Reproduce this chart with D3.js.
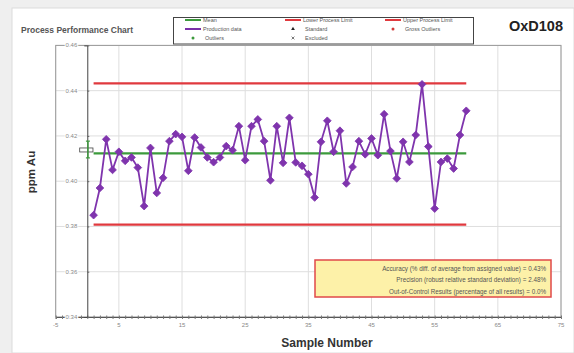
<!DOCTYPE html>
<html>
<head>
<meta charset="utf-8">
<script src="https://cdn.jsdelivr.net/npm/d3@7"></script>
<style>
  body { margin: 0; background: #fff; }
  svg { display: block; font-family: "Liberation Sans", Arial, sans-serif; }
</style>
</head>
<body>
<div id="chart"></div>
<script>
// sample numbers and measured gold values (ppm Au)
var sampleNumbers = [1,2,3,4,5,6,7,8,9,10,11,12,13,14,15,16,17,18,19,20,
  21,22,23,24,25,26,27,28,29,30,31,32,33,34,35,36,37,38,39,40,
  41,42,43,44,45,46,47,48,49,50,51,52,53,54,55,56,57,58,59,60];
var productionValues = [0.385,0.397,0.4185,0.405,0.413,0.409,0.4105,0.406,0.389,0.4147,
  0.3948,0.4015,0.4177,0.4208,0.4196,0.4046,0.4193,0.4149,0.4105,0.4084,
  0.4105,0.4155,0.4137,0.4243,0.4093,0.4243,0.4273,0.4177,0.4004,0.4243,
  0.4081,0.428,0.4083,0.4068,0.4031,0.3928,0.4174,0.4267,0.413,0.4223,
  0.399,0.4063,0.4177,0.4119,0.4189,0.4115,0.4296,0.4133,0.4012,0.4174,
  0.4085,0.4204,0.4428,0.4153,0.3879,0.4085,0.41,0.4056,0.4204,0.4311];

var meanValue = 0.4123;
var lowerLimit = 0.3808;
var upperLimit = 0.4432;
var limitSpan = [1, 60];

// certified standard: value and its tolerance
var standardValue = 0.4138;
var standardRange = [0.4103, 0.4177];

var xTicks = [-5, 5, 15, 25, 35, 45, 55, 65, 75];
var yTicks = [0.34, 0.36, 0.38, 0.40, 0.42, 0.44, 0.46];

var legendItems = [
  ["Mean", "line", "#3c9a3c"], ["Lower Process Limit", "line", "#e0393e"], ["Upper Process Limit", "line", "#e0393e"],
  ["Production data", "line", "#7a2fa8"], ["Standard", "tri", "#222"], ["Gross Outliers", "dot", "#d23a3a"],
  ["Outliers", "dot", "#3c9a3c"], ["Excluded", "cross", "#555"]
];

var statLines = [
  "Accuracy (% diff. of average from assigned value) = 0.43%",
  "Precision (robust relative standard deviation) = 2.48%",
  "Out-of-Control Results (percentage of all results) = 0.0%"
];

var width = 574, height = 353;
var purple = "#7f34ad", red = "#e0393e", green = "#3c9a3c";

var svg = d3.select("#chart").append("svg")
  .attr("width", width)
  .attr("height", height);

// page background with the white panel
svg.append("rect").attr("width", width).attr("height", height).attr("fill", "#efefef");
svg.append("rect").attr("x", 12).attr("y", 8).attr("width", width - 12).attr("height", height - 8)
  .attr("fill", "#fff").attr("stroke", "#dcdcdc");

var x = d3.scaleLinear().domain([-5, 75]).range([55.7, 561]);
var y = d3.scaleLinear().domain([0.34, 0.46]).range([317, 45.4]);

// grid
var grid = svg.append("g");
grid.selectAll("line.v").data(xTicks).enter().append("line")
  .attr("x1", d => x(d)).attr("x2", d => x(d))
  .attr("y1", y(0.34)).attr("y2", y(0.46))
  .attr("stroke", "#dedede");
grid.selectAll("line.h").data(yTicks).enter().append("line")
  .attr("x1", x(-5)).attr("x2", x(75))
  .attr("y1", d => y(d)).attr("y2", d => y(d))
  .attr("stroke", "#dedede");
grid.append("rect")
  .attr("x", x(-5)).attr("y", y(0.46))
  .attr("width", x(75) - x(-5)).attr("height", y(0.34) - y(0.46))
  .attr("fill", "none").attr("stroke", "#9a9a9a");

// x axis with minor ticks
var xAxisG = svg.append("g").attr("transform", "translate(0," + y(0.34) + ")");
xAxisG.call(d3.axisBottom(x).tickValues(d3.range(-5, 76, 1)).tickSize(2).tickFormat(""));
xAxisG.call(g => g.select(".domain").attr("stroke", "#555"));
xAxisG.selectAll(".tick line").attr("stroke", "#777").attr("y1", -1.5);
xAxisG.selectAll("text.lbl").data(xTicks).enter().append("text")
  .attr("class", "lbl")
  .attr("x", d => x(d)).attr("y", 10)
  .attr("text-anchor", "middle")
  .attr("font-size", "6px").attr("fill", "#888")
  .text(d => d);

// y axis at zero
var yAxisG = svg.append("g").attr("transform", "translate(" + x(0) + ",0)");
yAxisG.call(d3.axisLeft(y).tickValues(yTicks).tickSize(3).tickFormat(""));
yAxisG.select(".domain").attr("stroke", "#444");
yAxisG.selectAll(".tick line").attr("stroke", "#666").attr("x2", 2);
yAxisG.selectAll("text.lbl").data(yTicks).enter().append("text")
  .attr("class", "lbl")
  .attr("x", -10).attr("y", d => y(d) + 2)
  .attr("text-anchor", "end")
  .attr("font-size", "6px").attr("fill", "#888")
  .attr("stroke", "#fff").attr("stroke-width", 2).attr("paint-order", "stroke")
  .text(d => d3.format(".2f")(d));

// limits and mean
var refLines = [[upperLimit, red], [lowerLimit, red], [meanValue, green]];
svg.selectAll("line.ref").data(refLines).enter().append("line")
  .attr("x1", x(limitSpan[0])).attr("x2", x(limitSpan[1]))
  .attr("y1", d => y(d[0])).attr("y2", d => y(d[0]))
  .attr("stroke", d => d[1]).attr("stroke-width", 2.2);

// standard marker
var std = svg.append("g");
std.append("rect")
  .attr("x", x(-1.2)).attr("y", y(standardValue) - 2)
  .attr("width", x(0.9) - x(-1.2)).attr("height", 4)
  .attr("fill", "none").attr("stroke", "#444").attr("stroke-width", 0.8);
std.append("line")
  .attr("x1", x(0.1)).attr("x2", x(0.1))
  .attr("y1", y(standardRange[0])).attr("y2", y(standardRange[1]))
  .attr("stroke", green).attr("stroke-width", 1.5);
std.selectAll("line.cap").data(standardRange).enter().append("line")
  .attr("x1", x(0.1) - 2).attr("x2", x(0.1) + 2)
  .attr("y1", d => y(d)).attr("y2", d => y(d))
  .attr("stroke", green).attr("stroke-width", 1.2);

// production data
var points = sampleNumbers.map((s, i) => [s, productionValues[i]]);
svg.append("path")
  .datum(points)
  .attr("d", d3.line().x(d => x(d[0])).y(d => y(d[1])))
  .attr("fill", "none").attr("stroke", purple).attr("stroke-width", 1.8);
svg.selectAll("path.pt").data(points).enter().append("path")
  .attr("class", "pt")
  .attr("transform", d => "translate(" + x(d[0]) + "," + y(d[1]) + ")")
  .attr("d", d3.symbol(d3.symbolDiamond2, 38))
  .attr("fill", purple).attr("stroke", purple).attr("stroke-width", 0.8);

// titles
svg.append("text").attr("x", 21).attr("y", 33)
  .attr("font-size", "8.5px").attr("font-weight", "bold").attr("fill", "#555")
  .text("Process Performance Chart");
svg.append("text").attr("x", 563).attr("y", 31).attr("text-anchor", "end")
  .attr("font-size", "14.5px").attr("font-weight", "bold").attr("fill", "#222")
  .text("OxD108");
svg.append("text")
  .attr("transform", "translate(35,172) rotate(-90)")
  .attr("text-anchor", "middle")
  .attr("font-size", "11.5px").attr("font-weight", "bold").attr("fill", "#333")
  .text("ppm Au");
svg.append("text").attr("x", 327).attr("y", 347).attr("text-anchor", "middle")
  .attr("font-size", "12px").attr("font-weight", "bold").attr("fill", "#333")
  .text("Sample Number");

// legend
var legend = svg.append("g");
legend.append("rect").attr("x", 173.5).attr("y", 17.5).attr("width", 300).attr("height", 26.5)
  .attr("fill", "#fff").attr("stroke", "#444").attr("stroke-width", 1);
var colX = [185, 285, 385], rowY = [20, 29, 38];
legendItems.forEach(function (item, i) {
  var cx = colX[i % 3], cy = rowY[Math.floor(i / 3)];
  var g = legend.append("g").attr("transform", "translate(" + cx + "," + cy + ")");
  if (item[1] === "line") {
    g.append("line").attr("x1", 0).attr("x2", 16).attr("stroke", item[2]).attr("stroke-width", 2);
  } else if (item[1] === "tri") {
    g.append("path").attr("transform", "translate(8,0)").attr("d", d3.symbol(d3.symbolTriangle, 6)).attr("fill", item[2]);
  } else if (item[1] === "dot") {
    g.append("circle").attr("cx", 8).attr("r", 1.5).attr("fill", item[2]);
  } else {
    g.append("path").attr("transform", "translate(8,0)").attr("d", d3.symbol(d3.symbolX, 6)).attr("stroke", item[2]).attr("stroke-width", 0.8);
  }
  g.append("text").attr("x", item[1] === "line" ? 18 : 20).attr("y", 2)
    .attr("font-size", "5.5px").attr("fill", "#555").text(item[0]);
});

// statistics box
var stats = svg.append("g");
stats.append("rect").attr("x", 315).attr("y", 260).attr("width", 236).attr("height", 37)
  .attr("fill", "#fdf1a8").attr("stroke", "#e0484a").attr("stroke-width", 1.5);
stats.selectAll("text").data(statLines).enter().append("text")
  .attr("x", 546).attr("y", (d, i) => 271 + i * 11.3)
  .attr("text-anchor", "end")
  .attr("font-size", "6.3px").attr("fill", "#555")
  .text(d => d);
</script>
</body>
</html>
